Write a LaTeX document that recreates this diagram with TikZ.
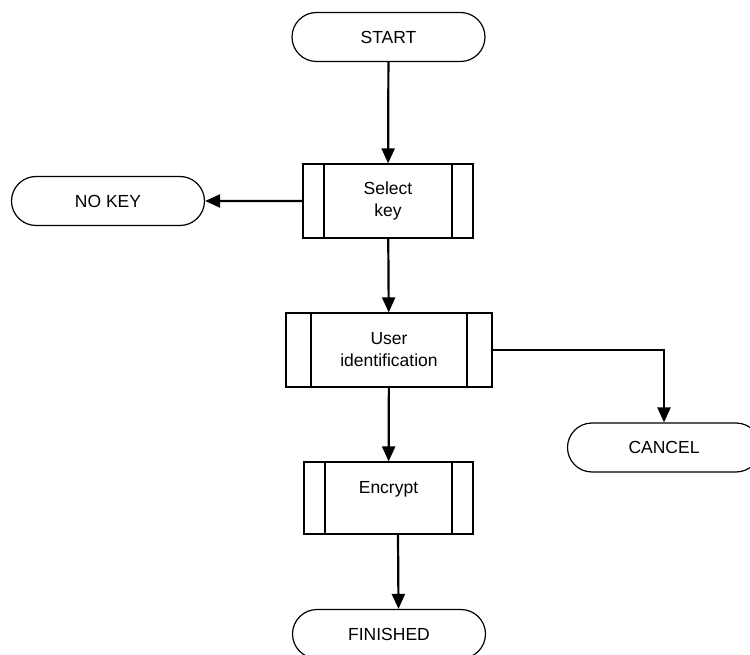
\documentclass[tikz,border=0pt]{standalone}
\usepackage{fontspec}
\setmainfont{Liberation Sans}
\usetikzlibrary{positioning, arrows.meta, shapes.misc}
\tikzset{
  terminal/.style = {rounded rectangle, draw, line width=1.2pt, minimum width=193pt, minimum height=49pt, inner sep=0pt},
  process/.style  = {rectangle, draw, line width=1.2pt, inner sep=0pt, align=center,
                     path picture={\draw[line width=1.2pt]
                       ([xshift=#1]path picture bounding box.north west) -- ([xshift=#1]path picture bounding box.south west)
                       ([xshift=-#1]path picture bounding box.north east) -- ([xshift=-#1]path picture bounding box.south east);}},
  process/.default = 21pt,
  arr/.style      = {-{Triangle[length=15pt, width=13pt]}, line width=2.2pt}
}

\begin{document}
\begin{tikzpicture}[x=1pt, y=-1pt, font=\fontsize{17.5}{22}\selectfont]
        \useasboundingbox (0,0) rectangle (750,655);
        \node[terminal] (start)    at (388.5, 37)  {START};
        \node[process, minimum width=170pt, minimum height=74pt] (select)  at (388, 201) {Select\\key};
        \node[terminal] (nokey)    at (108, 201)   {NO KEY};
        \node[process=25pt, minimum width=206pt, minimum height=74pt] (userid) at (389, 350) {User\\identification};
        \node[terminal] (cancel)   at (664, 447.5) {CANCEL};
        \node[process, minimum width=169pt, minimum height=72pt] (encrypt) at (388.5, 498) {Encrypt\\~};
        \node[terminal] (finished) at (389, 634)   {FINISHED};
        \draw[arr] (start)   -- (select);
        \draw[arr] (select)  -- (nokey);
        \draw[arr] (select)  -- (userid);
        \draw[arr] (userid)  -| (cancel);
        \draw[arr] (userid)  -- (encrypt);
        \draw[arr] ([xshift=9.5pt]encrypt.south) -- ([xshift=9.5pt]finished.north);
      \end{tikzpicture}
\end{document}
